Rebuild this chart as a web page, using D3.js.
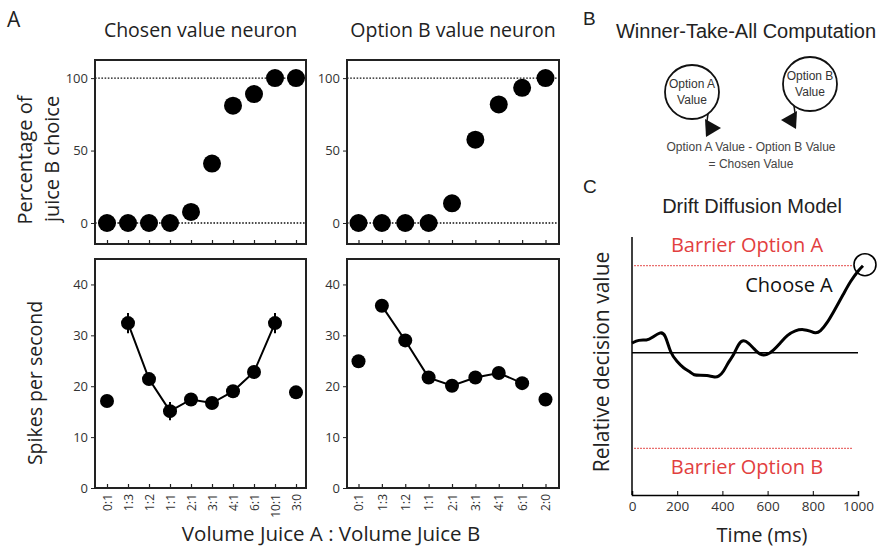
<!DOCTYPE html>
<html>
  <head>
    <meta charset="utf-8">
    <script src="https://d3js.org/d3.v7.min.js"></script>
    <style>
      body { margin:0; background:#fff; }
      svg { display:block; }
      .sans { font-family: "Open Sans", "Noto Sans", sans-serif; }
      .arial { font-family: "Liberation Sans", Arial, sans-serif; }
    </style>
  </head>
  <body>
    <script>

    // ---- data ----
    var leftCats = ["0:1","1:3","1:2","1:1","2:1","3:1","4:1","6:1","10:1","3:0"];
    var leftChoice = [0, 0, 0, 0, 7.6, 41, 81, 89, 100, 100];
    var leftRate = [17.1, 32.4, 21.4, 15.1, 17.4, 16.7, 19.0, 22.8, 32.4, 18.8];
    var leftErr = [0.5, 2.0, 1.2, 1.8, 0.8, 1.2, 0.8, 0.8, 2.0, 0.5];

    var rightCats = ["0:1","1:3","1:2","1:1","2:1","3:1","4:1","6:1","2:0"];
    var rightChoice = [0, 0, 0, 0, 13.6, 57.5, 81.8, 93.3, 100];
    var rightRate = [24.9, 35.8, 29.0, 21.7, 20.1, 21.7, 22.6, 20.6, 17.4];
    var rightErr = [0.5, 1.2, 1.2, 0.9, 0.9, 0.9, 0.9, 1.0, 0.5];

    var choiceTicks = [0, 50, 100];
    var rateTicks = [0, 10, 20, 30, 40];
    var timeTicks = [0, 200, 400, 600, 800, 1000];

    // drift diffusion trace (time in ms, relative decision value; barrier A = 1)
    var driftTime = [0, 29, 66, 88, 125, 147, 170, 199, 228, 258, 273, 302, 332, 361, 383, 405, 428, 450, 472, 494, 516, 538, 568, 597, 627, 656, 686, 723, 760, 789, 811, 833, 863, 892, 937, 966, 1003, 1022];
    var driftValue = [0.11, 0.15, 0.14, 0.17, 0.24, 0.22, -0.01, -0.10, -0.18, -0.22, -0.26, -0.26, -0.26, -0.28, -0.28, -0.22, -0.10, -0.03, 0.11, 0.15, 0.11, 0.05, -0.03, -0.03, 0.03, 0.11, 0.20, 0.26, 0.27, 0.25, 0.22, 0.24, 0.34, 0.47, 0.68, 0.82, 0.95, 1.0];
    var barrierA = 1.0, barrierB = -1.1;

    var width = 878, height = 550;
    var svg = d3.select("body").append("svg")
        .attr("width", width)
        .attr("height", height);

    var ink = "#222";

    // draws one choice panel + one firing-rate panel
    function drawColumn(cats, choice, rate, err, x0, x1, xr0, xr1, title) {
      var x = d3.scalePoint().domain(cats).range([xr0, xr1]);
      var yTop = d3.scaleLinear().domain([-14.5, 112.5]).range([244, 60]);
      var yBot = d3.scaleLinear().domain([0, 45]).range([488, 259]);

      svg.append("text").attr("class", "sans")
        .attr("x", (x0 + x1) / 2).attr("y", 37)
        .attr("text-anchor", "middle").attr("font-size", 19.5).attr("fill", ink)
        .text(title);

      // ---- top: percentage of juice B choice ----
      var gt = svg.append("g");
      [0, 100].forEach(function(v) {
        gt.append("line")
          .attr("x1", x0).attr("x2", x1)
          .attr("y1", yTop(v)).attr("y2", yTop(v))
          .attr("stroke", "#111").attr("stroke-width", 1.4)
          .attr("stroke-dasharray", "1.6,1.6");
      });
      var ya = gt.append("g").attr("transform", "translate(" + x0 + ",0)")
        .call(d3.axisLeft(yTop).tickValues(choiceTicks).tickSize(4).tickPadding(3));
      ya.select(".domain").remove();
      ya.selectAll("text").attr("class", "sans").attr("font-size", 13).attr("fill", "#333");
      ya.selectAll("line").attr("stroke", ink);
      var xa = gt.append("g").attr("transform", "translate(0,244)")
        .call(d3.axisBottom(x).tickSize(-4).tickFormat(""));
      xa.select(".domain").remove();
      xa.selectAll("line").attr("stroke", ink).attr("stroke-width", 1.2);

      gt.selectAll("circle.dot").data(choice).enter().append("circle")
        .attr("class", "dot")
        .attr("cx", function(d, i) { return x(cats[i]); })
        .attr("cy", function(d) { return yTop(d); })
        .attr("r", 9).attr("fill", "#000");

      gt.append("rect").attr("x", x0).attr("y", 60)
        .attr("width", x1 - x0).attr("height", 244 - 60)
        .attr("fill", "none").attr("stroke", ink).attr("stroke-width", 2);

      // ---- bottom: spikes per second ----
      var gb = svg.append("g");
      var yb = gb.append("g").attr("transform", "translate(" + x0 + ",0)")
        .call(d3.axisLeft(yBot).tickValues(rateTicks).tickSize(4).tickPadding(3));
      yb.select(".domain").remove();
      yb.selectAll("text").attr("class", "sans").attr("font-size", 13).attr("fill", "#333");
      yb.selectAll("line").attr("stroke", ink);
      var xb = gb.append("g").attr("transform", "translate(0,488)")
        .call(d3.axisBottom(x).tickSize(-4).tickPadding(0));
      xb.select(".domain").remove();
      xb.selectAll("line").attr("stroke", ink).attr("stroke-width", 1.2);
      xb.selectAll("text")
        .attr("class", "sans").attr("font-size", 12).attr("fill", "#333")
        .attr("y", 0).attr("x", -6).attr("dy", "0.35em")
        .attr("transform", "rotate(-90)")
        .style("text-anchor", "end");

      var n = cats.length;
      var inner = d3.range(1, n - 1);
      gb.append("path")
        .datum(inner)
        .attr("fill", "none").attr("stroke", "#000").attr("stroke-width", 2)
        .attr("d", d3.line()
          .x(function(i) { return x(cats[i]); })
          .y(function(i) { return yBot(rate[i]); }));

      gb.selectAll("line.err").data(rate).enter().append("line")
        .attr("class", "err")
        .attr("x1", function(d, i) { return x(cats[i]); })
        .attr("x2", function(d, i) { return x(cats[i]); })
        .attr("y1", function(d, i) { return yBot(d - err[i]); })
        .attr("y2", function(d, i) { return yBot(d + err[i]); })
        .attr("stroke", "#000").attr("stroke-width", 2);

      gb.selectAll("circle.dot").data(rate).enter().append("circle")
        .attr("class", "dot")
        .attr("cx", function(d, i) { return x(cats[i]); })
        .attr("cy", function(d) { return yBot(d); })
        .attr("r", 7).attr("fill", "#000");

      gb.append("rect").attr("x", x0).attr("y", 259)
        .attr("width", x1 - x0).attr("height", 488 - 259)
        .attr("fill", "none").attr("stroke", ink).attr("stroke-width", 2);
    }

    drawColumn(leftCats, leftChoice, leftRate, leftErr, 95, 306, 107, 296, "Chosen value neuron");
    drawColumn(rightCats, rightChoice, rightRate, rightErr, 347, 559, 358.5, 545.5, "Option B value neuron");

    // panel A labels
    svg.append("text").attr("class", "sans").attr("x", 7).attr("y", 27)
      .attr("font-size", 21).attr("fill", ink).text("A");
    svg.append("text").attr("class", "sans")
      .attr("transform", "translate(32,160) rotate(-90)")
      .attr("text-anchor", "middle").attr("font-size", 20).attr("fill", ink)
      .text("Percentage of");
    svg.append("text").attr("class", "sans")
      .attr("transform", "translate(59,159) rotate(-90)")
      .attr("text-anchor", "middle").attr("font-size", 20).attr("fill", ink)
      .text("juice B choice");
    svg.append("text").attr("class", "sans")
      .attr("transform", "translate(42,383) rotate(-90)")
      .attr("text-anchor", "middle").attr("font-size", 19.5).attr("fill", ink)
      .text("Spikes per second");
    svg.append("text").attr("class", "sans")
      .attr("x", 331).attr("y", 541)
      .attr("text-anchor", "middle").attr("font-size", 20.5).attr("fill", ink)
      .text("Volume Juice A : Volume Juice B");

    // ---- panel B: winner-take-all diagram ----
    var gB = svg.append("g").attr("class", "arial");
    gB.append("text").attr("x", 583).attr("y", 25).attr("font-size", 19).attr("fill", ink).text("B");
    gB.append("text").attr("x", 746).attr("y", 38).attr("text-anchor", "middle")
      .attr("font-size", 20).attr("fill", ink).text("Winner-Take-All Computation");

    var nodes = [
      {label: "Option A", cx: 692, cy: 92, dir: 1},
      {label: "Option B", cx: 810, cy: 84, dir: -1}
    ];
    nodes.forEach(function(n) {
      gB.append("circle").attr("cx", n.cx).attr("cy", n.cy).attr("r", 27)
        .attr("fill", "#fff").attr("stroke", "#111").attr("stroke-width", 1.8);
      gB.append("text").attr("x", n.cx).attr("y", n.cy - 4).attr("text-anchor", "middle")
        .attr("font-size", 12).attr("fill", "#333").text(n.label);
      gB.append("text").attr("x", n.cx).attr("y", n.cy + 12).attr("text-anchor", "middle")
        .attr("font-size", 12).attr("fill", "#333").text("Value");
      // axon + arrowhead
      var bx = n.cx + n.dir * 16, by = n.cy + 22;
      var tx = bx - n.dir * 1, ty = n.cy + 29;
      gB.append("line").attr("x1", bx).attr("y1", by).attr("x2", tx).attr("y2", ty)
        .attr("stroke", "#111").attr("stroke-width", 1.5);
      gB.append("path")
        .attr("d", "M" + (tx - n.dir * 2) + "," + (ty - 2) +
                   "L" + (tx + n.dir * 14) + "," + (ty + 7) +
                   "L" + (tx - n.dir * 1) + "," + (ty + 16) + "Z")
        .attr("fill", "#111");
    });
    gB.append("text").attr("x", 751).attr("y", 151).attr("text-anchor", "middle")
      .attr("font-size", 12).attr("fill", "#444").text("Option A Value - Option B Value");
    gB.append("text").attr("x", 751).attr("y", 168).attr("text-anchor", "middle")
      .attr("font-size", 12).attr("fill", "#444").text("= Chosen Value");

    // ---- panel C: drift diffusion ----
    var xC = d3.scaleLinear().domain([0, 1000]).range([632, 858]);
    var yC = d3.scaleLinear().domain([-1.636, 1.33]).range([495, 237]);
    var gC = svg.append("g");
    gC.append("text").attr("class", "arial").attr("x", 583).attr("y", 193)
      .attr("font-size", 19).attr("fill", ink).text("C");
    gC.append("text").attr("class", "arial").attr("x", 752).attr("y", 213)
      .attr("text-anchor", "middle").attr("font-size", 20).attr("fill", ink)
      .text("Drift Diffusion Model");

    var red = "#e2403f";
    [barrierA, barrierB].forEach(function(v) {
      gC.append("line").attr("x1", xC(10)).attr("x2", xC(975))
        .attr("y1", yC(v)).attr("y2", yC(v))
        .attr("stroke", red).attr("stroke-width", 1.3).attr("stroke-dasharray", "1.5,1.5");
    });
    gC.append("line").attr("x1", xC(0)).attr("x2", xC(1000))
      .attr("y1", yC(0)).attr("y2", yC(0))
      .attr("stroke", "#000").attr("stroke-width", 1.5);

    var xAxC = gC.append("g").attr("transform", "translate(0," + yC(-1.636) + ")")
      .call(d3.axisBottom(xC).tickValues(timeTicks).tickFormat(d3.format("d")).tickSize(-4).tickPadding(6));
    xAxC.select(".domain").attr("stroke", "#000").attr("stroke-width", 1.5);
    xAxC.selectAll("line").attr("stroke", "#000");
    xAxC.selectAll("text").attr("class", "sans").attr("font-size", 13.5).attr("fill", "#333");
    gC.append("line").attr("x1", xC(0)).attr("x2", xC(0))
      .attr("y1", yC(1.33)).attr("y2", yC(-1.636))
      .attr("stroke", "#000").attr("stroke-width", 1.5);

    gC.append("path")
      .datum(d3.range(driftTime.length))
      .attr("fill", "none").attr("stroke", "#000").attr("stroke-width", 3)
      .attr("stroke-linejoin", "round")
      .attr("d", d3.line()
        .x(function(i) { return xC(driftTime[i]); })
        .y(function(i) { return yC(driftValue[i]); })
        .curve(d3.curveBasis));
    var last = driftTime.length - 1;
    gC.append("circle").attr("cx", xC(driftTime[last]) + 2).attr("cy", yC(driftValue[last]) - 1)
      .attr("r", 11).attr("fill", "none").attr("stroke", "#000").attr("stroke-width", 1.6);

    gC.append("text").attr("class", "sans").attr("x", 747).attr("y", 252)
      .attr("text-anchor", "middle").attr("font-size", 20).attr("fill", red).text("Barrier Option A");
    gC.append("text").attr("class", "sans").attr("x", 789).attr("y", 292)
      .attr("text-anchor", "middle").attr("font-size", 20).attr("fill", "#111").text("Choose A");
    gC.append("text").attr("class", "sans").attr("x", 747).attr("y", 474)
      .attr("text-anchor", "middle").attr("font-size", 20).attr("fill", red).text("Barrier Option B");
    gC.append("text").attr("class", "sans")
      .attr("transform", "translate(609,362) rotate(-90)")
      .attr("text-anchor", "middle").attr("font-size", 21).attr("fill", ink)
      .text("Relative decision value");
    gC.append("text").attr("class", "sans").attr("x", 762).attr("y", 542)
      .attr("text-anchor", "middle").attr("font-size", 20).attr("fill", ink)
      .text("Time (ms)");

    </script>
  </body>
</html>
